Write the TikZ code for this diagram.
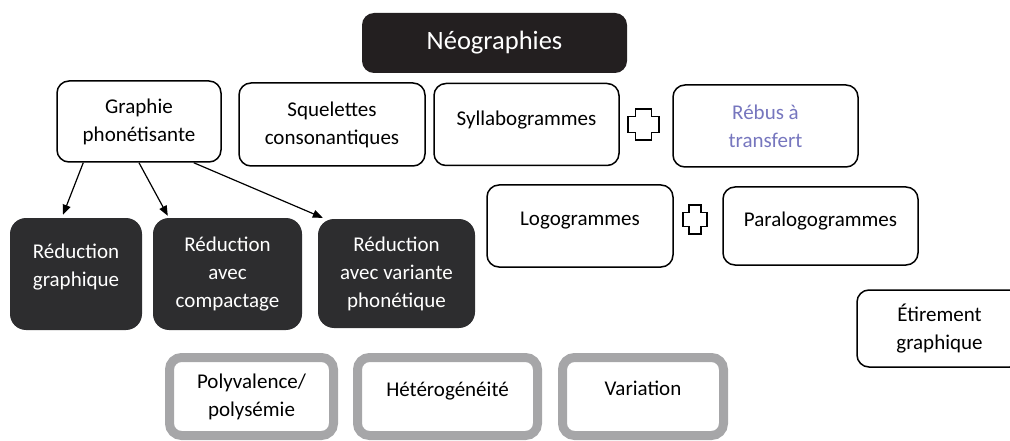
\documentclass[tikz,border=0pt]{standalone}
\usepackage{fontspec}
\setmainfont{Carlito}
\usetikzlibrary{arrows.meta}

\definecolor{titrefond}{RGB}{35,31,32}
\definecolor{boitefond}{RGB}{45,45,47}
\definecolor{grisbord}{RGB}{166,166,168}
\definecolor{rebusbleu}{RGB}{118,118,190}

\tikzset{
  cadre/.style={draw=black, line width=1.5pt, rounded corners=12pt, align=center,
    inner sep=0pt, font=\fontsize{21}{28}\selectfont},
  noire/.style={fill=boitefond, text=white, rounded corners=16pt, align=center,
    inner sep=0pt, font=\fontsize{21}{28}\selectfont},
  grise/.style={draw=grisbord, line width=9pt, rounded corners=12pt, align=center,
    inner sep=0pt, font=\fontsize{21}{28}\selectfont},
  remonte/.style={text depth=#1},
  fleche/.style={line width=1.2pt, -{Triangle[length=10pt,width=8pt]}},
  croix/.pic={
    \draw[line width=1.2pt, fill=white] (-0.25,-0.5) -- (0.25,-0.5) -- (0.25,-0.25)
      -- (0.5,-0.25) -- (0.5,0.25) -- (0.25,0.25) -- (0.25,0.5) -- (-0.25,0.5)
      -- (-0.25,0.25) -- (-0.5,0.25) -- (-0.5,-0.25) -- (-0.25,-0.25) -- cycle;
  }
}

\begin{document}
\begin{tikzpicture}[x=1pt, y=-1pt]
  \useasboundingbox (0,0) rectangle (1010,441);
  \clip (0,0) rectangle (1010,441);

  % titre
  \node[fill=titrefond, text=white, rounded corners=12pt, minimum width=265pt,
    minimum height=60pt, font=\fontsize{26.5}{30}\selectfont] (neo) at (494.5,43) {Néographies};

  % premiere rangee
  \node[cadre, minimum width=164pt, minimum height=81pt] (graphie) at (139,121.5) {Graphie\\phonétisante};
  \node[cadre, minimum width=186pt, minimum height=83pt] (squel) at (332,124.5) {Squelettes\\consonantiques};
  \node[cadre, remonte=13pt, minimum width=185pt, minimum height=82pt] (syllabo) at (526.5,124.5) {Syllabogrammes};
  \pic (plusA) [xscale=31, yscale=31] at (643.5,124.5) {croix};
  \node[cadre, text=rebusbleu, minimum width=185pt, minimum height=82pt] (rebus) at (765.5,126) {Rébus à\\transfert};

  % deuxieme rangee
  \node[cadre, remonte=14pt, minimum width=186pt, minimum height=82pt] (logo) at (580,226) {Logogrammes};
  \pic (plusB) [xscale=24, yscale=29] at (695,219.5) {croix};
  \node[cadre, remonte=13pt, minimum width=195pt, minimum height=78pt] (paralogo) at (820.5,226) {Paralogogrammes};
  \node[cadre, minimum width=165pt, minimum height=77pt] (etirement) at (939.5,328.5) {Étirement\\graphique};

  % reductions
  \node[noire, remonte=18pt, minimum width=132pt, minimum height=112pt] (red1) at (76,274) {Réduction\\graphique};
  \node[noire, minimum width=149pt, minimum height=112pt] (red2) at (227.5,274) {Réduction\\avec\\compactage};
  \node[noire, minimum width=157pt, minimum height=109pt] (red3) at (396.5,273.5) {Réduction\\avec variante\\phonétique};

  \draw[fleche] ([xshift=27pt]graphie.south west) -- ([xshift=-13pt,yshift=3pt]red1.north);
  \draw[fleche] (graphie.south) -- ([xshift=15pt,yshift=2pt]red2.north west);
  \draw[fleche] ([xshift=-28pt]graphie.south east) -- ([xshift=5pt,yshift=1pt]red3.north west);

  % cadres gris
  \node[grise, minimum width=164pt, minimum height=78pt] (poly) at (251.5,396.5) {Polyvalence/\\polysémie};
  \node[grise, remonte=15pt, minimum width=180pt, minimum height=78pt] (hetero) at (447.5,396.5) {Hétérogénéité};
  \node[grise, remonte=17pt, minimum width=161pt, minimum height=78pt] (variation) at (643,396.5) {Variation};
\end{tikzpicture}
\end{document}
